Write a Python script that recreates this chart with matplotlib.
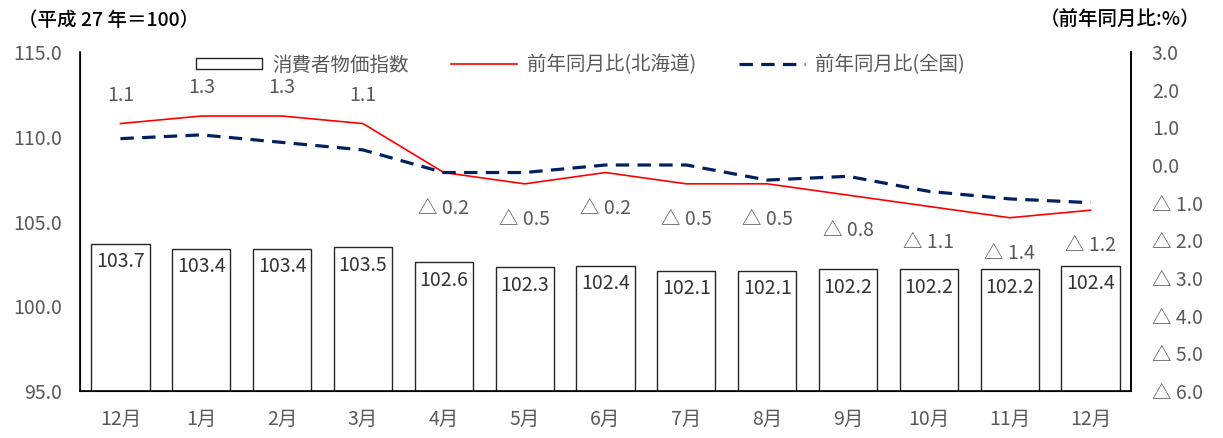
import matplotlib
matplotlib.use("Agg")
import matplotlib.pyplot as plt
from matplotlib.ticker import FuncFormatter
from matplotlib.patches import Patch
from matplotlib.lines import Line2D

plt.rcParams['font.family'] = ['Noto Sans CJK JP', 'DejaVu Sans']

# データ
months = ["12月", "1月", "2月", "3月", "4月", "5月", "6月",
          "7月", "8月", "9月", "10月", "11月", "12月"]
cpi_index = [103.7, 103.4, 103.4, 103.5, 102.6, 102.3, 102.4,
             102.1, 102.1, 102.2, 102.2, 102.2, 102.4]
yoy_hokkaido = [1.1, 1.3, 1.3, 1.1, -0.2, -0.5, -0.2,
                -0.5, -0.5, -0.8, -1.1, -1.4, -1.2]
yoy_japan = [0.7, 0.8, 0.6, 0.4, -0.2, -0.2, 0.0,
             0.0, -0.4, -0.3, -0.7, -0.9, -1.0]

gray = "#595959"
navy = "#002060"
fs = 14

fig = plt.figure(figsize=(12.23, 4.38), dpi=100)
ax = fig.add_axes([80 / 1223, 47 / 438, 1051 / 1223, 339 / 438])
x = list(range(len(months)))

# 棒グラフ（消費者物価指数）
ax.bar(x, cpi_index, width=0.72, color="white", edgecolor="#262626", linewidth=1.0)
for xi, v in zip(x, cpi_index):
    ax.text(xi, v - 0.45, f"{v:.1f}", ha="center", va="top", fontsize=fs, color="#333333")

ax.set_ylim(95, 115)
ax.set_yticks([95, 100, 105, 110, 115])
ax.yaxis.set_major_formatter(FuncFormatter(lambda v, p: f"{v:.1f}"))
ax.set_xlim(-0.5, len(months) - 0.5)
ax.set_xticks(x)
ax.set_xticklabels(months)
ax.tick_params(axis="both", length=0, labelsize=fs, labelcolor=gray)
ax.tick_params(axis="y", pad=13)
ax.tick_params(axis="x", pad=13)
ax.spines["top"].set_visible(False)
for s in ["left", "bottom", "right"]:
    ax.spines[s].set_color("black")
    ax.spines[s].set_linewidth(1.2)

# 前年同月比（右軸）
ax2 = ax.twinx()
ax2.plot(x, yoy_hokkaido, color="#FF0000", linewidth=1.2)
ax2.plot(x, yoy_japan, color=navy, linewidth=2.3, dashes=(4.2, 2.6))
ax2.set_ylim(-6, 3)
ax2.set_yticks(range(-6, 4))
ax2.yaxis.set_major_formatter(
    FuncFormatter(lambda v, p: f"{v:.1f}" if v >= 0 else f"△ {abs(v):.1f}"))
ax2.tick_params(axis="y", length=0, labelsize=fs, labelcolor=gray, pad=15)
ax2.spines["top"].set_visible(False)
ax2.spines["right"].set_linewidth(1.2)

for xi, v in zip(x, yoy_hokkaido):
    if v >= 0:
        ax2.text(xi, v + 0.75, f"{v:.1f}", ha="center", va="center", fontsize=fs, color=gray)
    else:
        ax2.text(xi, v - 0.95, f"△ {abs(v):.1f}", ha="center", va="center", fontsize=fs, color=gray)

# 凡例
handles = [Patch(facecolor="white", edgecolor="#262626", linewidth=1.0),
           Line2D([], [], color="#FF0000", linewidth=1.2),
           Line2D([], [], color=navy, linewidth=2.3, dashes=(4.2, 2.6))]
labels = ["消費者物価指数", "前年同月比(北海道)", "前年同月比(全国)"]
fig.legend(handles, labels, ncol=3, frameon=False, fontsize=fs,
           loc="center left", bbox_to_anchor=(196 / 1223, 1 - 65 / 438),
           borderpad=0, borderaxespad=0,
           handlelength=3.4, handleheight=0.55, columnspacing=2.2,
           handletextpad=0.5, labelcolor=gray)

# 単位
fig.text(18 / 1223, 1 - 20 / 438, "（平成 27 年＝100）", fontsize=fs,
         va="center", ha="left", fontweight="medium")
fig.text(1200 / 1223, 1 - 20 / 438, "（前年同月比:%）", fontsize=fs,
         va="center", ha="right", fontweight="medium")

fig.savefig("out.png", dpi=100)
